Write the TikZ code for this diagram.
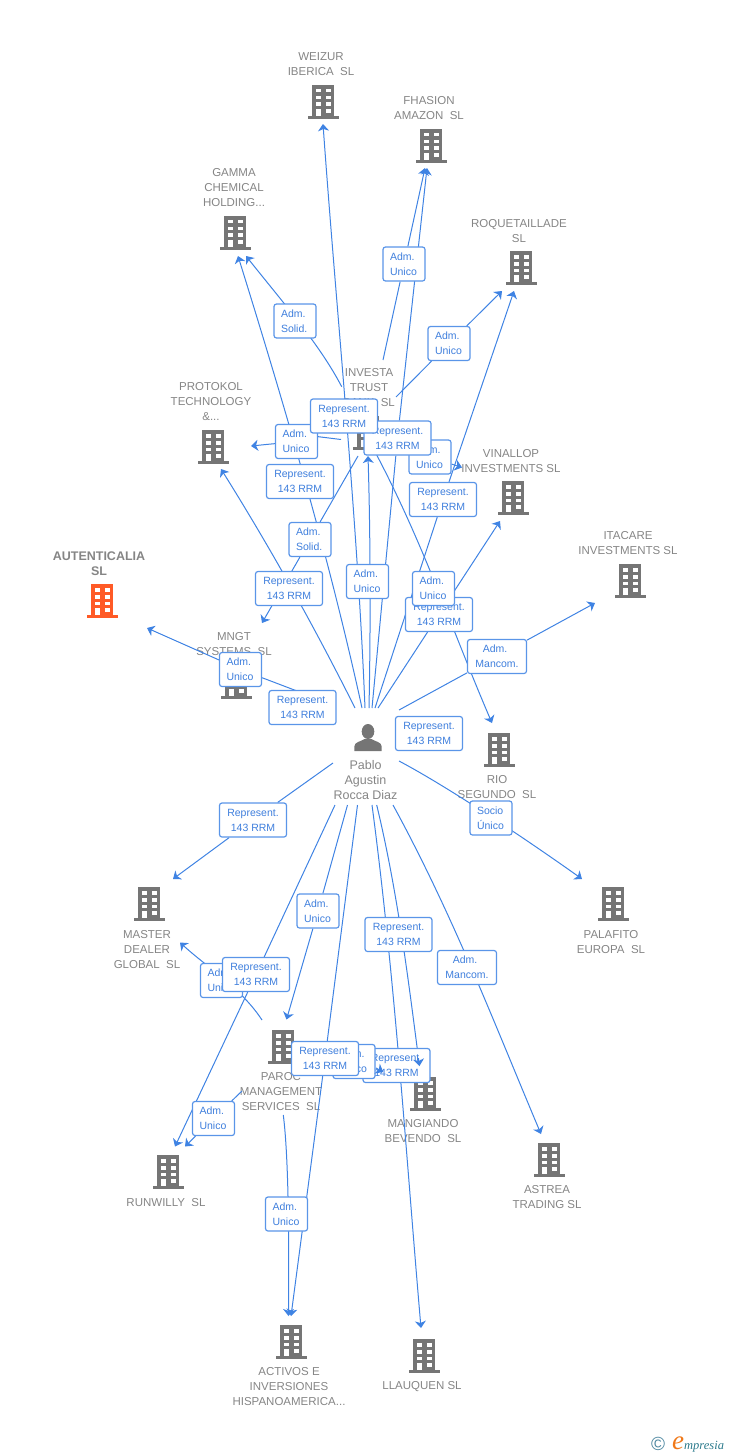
\documentclass[tikz,border=0pt]{standalone}
\usepackage{fontspec}
\setmainfont{Liberation Sans}
\newfontfamily\logofont{Liberation Serif}
\usetikzlibrary{arrows.meta,backgrounds}
\definecolor{linkblue}{HTML}{3F83E3}
\definecolor{boxblue}{HTML}{5A95E8}
\definecolor{textblue}{HTML}{3F7FDD}
\definecolor{labelgray}{HTML}{858585}
\definecolor{icongray}{HTML}{757575}
\definecolor{iconred}{HTML}{FF5A26}
\definecolor{logoteal}{HTML}{2B7A8C}
\definecolor{logoring}{HTML}{4D87A0}
\definecolor{logoorange}{HTML}{F07818}
\tikzset{
  >={Stealth[length=7pt,width=11pt,inset=2pt]},
  link/.style={color=linkblue,line width=1pt},
  relbox/.style={draw=boxblue,line width=1.2pt,rounded corners=2.5pt,fill=white,text=textblue,
    inner sep=0pt,minimum height=34pt,font=\fontsize{10.5}{15}\selectfont},
  repbox/.style={relbox,minimum width=67pt,align=center},
  admbox/.style={relbox,minimum width=42pt,align=left,text width=28pt},
  mancombox/.style={relbox,minimum width=59pt,align=center},
  firm/.style={inner sep=0pt,yshift=-0.5pt,text=labelgray,align=center,font=\fontsize{11.5}{15}\selectfont},
  building/.pic={
    \fill[pic actions] (-11,-17) rectangle (11,14);
    \fill[pic actions] (-15.5,14) rectangle (15.5,17);
    \foreach \r in {4,11,17.5}{
      \fill[white] (-7,-17+\r) rectangle (-2,-17+\r+3.5);
      \fill[white] (2.5,-17+\r) rectangle (7.5,-17+\r+3.5);
    }
    \fill[white] (-7,7) rectangle (-2,14);
    \fill[white] (2.5,7) rectangle (7.5,11);
  },
  personicon/.pic={
    \fill[icongray] (0,-6.5) ellipse (6.3 and 7.5);
    \fill[icongray] (-13.7,13) -- (-13.7,8.5) .. controls (-13.7,4) and (-7,3.5) .. (-3.5,1) -- (3.5,1)
      .. controls (7,3.5) and (13.7,4) .. (13.7,8.5) -- (13.7,13) -- cycle;
  }
}
\begin{document}
\begin{tikzpicture}[x=1pt,y=-1pt]
\useasboundingbox (0,0) rectangle (728,1455);
% free ends of the connectors
\coordinate (sWeizur) at (365,708);       \coordinate (tWeizur) at (323,124);
\coordinate (sFhasionA) at (383,360);     \coordinate (tFhasionA) at (425,168);
\coordinate (sFhasionR) at (372,708);     \coordinate (tFhasionR) at (427,168);
\coordinate (sGammaA) at (341.7,386.7);   \coordinate (tGammaA) at (246,256);
\coordinate (sGammaR) at (362,708);       \coordinate (tGammaR) at (238,256);
\coordinate (sRoquetA) at (396,397);      \coordinate (tRoquetA) at (502,291);
\coordinate (sRoquetR) at (375,708);      \coordinate (tRoquetR) at (514,291);
\coordinate (sProtokolA) at (341,439.5);  \coordinate (tProtokolA) at (251,446);
\coordinate (hProtokolA) at (296.5,434);
\coordinate (sProtokolR) at (355,708);    \coordinate (tProtokolR) at (221,469);
\coordinate (sMngt) at (358,456);         \coordinate (tMngt) at (262,623);
\coordinate (sInvesta) at (369,708);      \coordinate (tInvesta) at (368,456);
\coordinate (sVinallopA) at (398,447);    \coordinate (tVinallopA) at (462,467.5);
\coordinate (sVinallopR) at (378,708);    \coordinate (tVinallopR) at (500,521);
\coordinate (sRio) at (376.7,455);        \coordinate (tRio) at (492,723);
\coordinate (sAutent) at (297,691);       \coordinate (tAutent) at (147,628);
\coordinate (sItacare) at (399,710);      \coordinate (tItacare) at (595,603);
\coordinate (sPalafito) at (399,761);     \coordinate (tPalafito) at (582,879);
\coordinate (sMasterR) at (333,763);      \coordinate (tMasterR) at (173,879);
\coordinate (sMasterA) at (262,1020);     \coordinate (tMasterA) at (180,942.5);
\coordinate (sRunwillyR) at (335,805);    \coordinate (tRunwillyR) at (175,1146.5);
\coordinate (sRunwillyA) at (242,1091);   \coordinate (tRunwillyA) at (185,1146.5);
\coordinate (sParoc) at (347.5,805);      \coordinate (tParoc) at (286.5,1019.5);
\coordinate (sActivosR) at (357.5,805);   \coordinate (tActivosR) at (291,1316);
\coordinate (sActivosA) at (283.3,1115);  \coordinate (tActivosA) at (288.5,1316);
\coordinate (sMangiandoR) at (376.7,805); \coordinate (tMangiandoR) at (419.5,1066);
\coordinate (hMangiandoR) at (418.4,1058);
\coordinate (sMangiandoA) at (340,1056);  \coordinate (tMangiandoA) at (383.3,1072);
\coordinate (hMangiandoA) at (376,1068);
\coordinate (sLlauquen) at (372,805);     \coordinate (tLlauquen) at (421,1328);
\coordinate (sAstrea) at (393,805);       \coordinate (tAstrea) at (541,1134);
% relation boxes, the later ones lie over the earlier ones
\node[repbox] (bRepMngt) at (302.5,707.5) {Represent.\\143 RRM};
\node[admbox] (bAutent) at (240.5,669.5) {Adm.\\Unico};
\node[repbox] (bRepRio) at (429,733.5) {Represent.\\143 RRM};
\node[admbox] (bFhasionA) at (404,264) {Adm.\\Unico};
\node[admbox] (bGammaA) at (295,321) {Adm.\\Solid.};
\node[admbox] (bRoquetA) at (449,343.5) {Adm.\\Unico};
\node[admbox] (bProtokolA) at (296.5,441.5) {Adm.\\Unico};
\node[admbox] (bVinallopA) at (430,457) {Adm.\\Unico};
\node[repbox] (bFhasionR) at (397.5,438) {Represent.\\143 RRM};
\node[repbox] (bWeizur) at (344,416) {Represent.\\143 RRM};
\node[repbox] (bGammaR) at (300,481.5) {Represent.\\143 RRM};
\node[repbox] (bRoquetR) at (443,499.5) {Represent.\\143 RRM};
\node[admbox] (bMngt) at (310,539.5) {Adm.\\Solid.};
\node[repbox] (bProtokolR) at (289,588.5) {Represent.\\143 RRM};
\node[admbox] (bInvesta) at (367.5,581.5) {Adm.\\Unico};
\node[repbox] (bVinallopR) at (439,614.5) {Represent.\\143 RRM};
\node[admbox] (bRio) at (433.5,588.5) {Adm.\\Unico};
\node[mancombox] (bItacare) at (497,656.5) {Adm.\kern4pt\\Mancom.};
\node[admbox] (bPalafito) at (491,818) {Socio\\Único};
\node[repbox] (bMasterR) at (253,820) {Represent.\\143 RRM};
\node[admbox] (bParoc) at (318,911) {Adm.\\Unico};
\node[repbox] (bMangiandoR) at (398.5,934.5) {Represent.\\143 RRM};
\node[mancombox] (bAstrea) at (467,967.5) {Adm.\kern4pt\\Mancom.};
\node[admbox] (bMasterA) at (221.5,980.5) {Adm.\\Unico};
\node[repbox] (bRunwillyR) at (256,974.5) {Represent.\\143 RRM};
\node[repbox] (bLlauquen) at (396.5,1065.5) {Represent.\\143 RRM};
\node[admbox] (bMangiandoA) at (354,1061.5) {Adm.\\Unico};
\node[repbox] (bActivosR) at (325,1058.5) {Represent.\\143 RRM};
\node[admbox] (bRunwillyA) at (213.5,1118.5) {Adm.\\Unico};
\node[admbox] (bActivosA) at (286.5,1214) {Adm.\\Unico};
\begin{scope}[on background layer]
% buildings and their names
\pic[icongray] at (323,102) {building};
\pic[icongray] at (431,146) {building};
\pic[icongray] at (235,233) {building};
\pic[icongray] at (521,268) {building};
\pic[icongray] at (368,433) {building};
\pic[icongray] at (213,447) {building};
\pic[icongray] at (513,498) {building};
\pic[icongray] at (630,581) {building};
\pic[iconred] at (102,601) {building};
\pic[icongray] at (236,682) {building};
\pic[icongray] at (499,750) {building};
\pic[icongray] at (613,904) {building};
\pic[icongray] at (149,904) {building};
\pic[icongray] at (283,1047) {building};
\pic[icongray] at (425,1094) {building};
\pic[icongray] at (549,1160) {building};
\pic[icongray] at (168,1172) {building};
\pic[icongray] at (291,1342) {building};
\pic[icongray] at (424,1356) {building};
\pic at (368,738) {personicon};
\node[firm] (weizur) at (321,64) {WEIZUR\\IBERICA~~SL};
\node[firm] (fhasion) at (429,108) {FHASION\\AMAZON~~SL};
\node[firm] (gamma) at (234,187) {GAMMA\\CHEMICAL\\HOLDING...};
\node[firm] (roquet) at (519,231) {ROQUETAILLADE\\SL};
\node[firm] (investa) at (369,387) {INVESTA\\TRUST\\BANK~~SL};
\node[firm] (protokol) at (211,401) {PROTOKOL\\TECHNOLOGY\\\&...};
\node[firm] (vinallop) at (511,461) {VINALLOP\\INVESTMENTS SL};
\node[firm] (itacare) at (628,543) {ITACARE\\INVESTMENTS SL};
\node[firm,font=\fontsize{12.5}{15}\selectfont\bfseries] (autent) at (99,563) {AUTENTICALIA\\SL};
\node[firm] (mngt) at (234,644) {MNGT\\SYSTEMS~~SL};
\node[firm] (rio) at (497,787) {RIO\\SEGUNDO~~SL};
\node[firm] (palafito) at (611,942) {PALAFITO\\EUROPA~~SL};
\node[firm] (master) at (147,949) {MASTER\\DEALER\\GLOBAL~~SL};
\node[firm] (paroc) at (281,1091) {PAROC\\MANAGEMENT\\SERVICES~~SL};
\node[firm] (mangiando) at (423,1131) {MANGIANDO\\BEVENDO~~SL};
\node[firm] (astrea) at (547,1197) {ASTREA\\TRADING SL};
\node[firm] (runwilly) at (166,1202) {RUNWILLY~~SL};
\node[firm] (activos) at (289,1386) {ACTIVOS E\\INVERSIONES\\HISPANOAMERICA...};
\node[firm] (llauquen) at (422,1386) {LLAUQUEN SL};
\node[firm,font=\fontsize{12.5}{15}\selectfont] (pablo) at (365.5,780) {Pablo\\Agustin\\Rocca Diaz};
% connectors
\draw[link,->] (sWeizur) .. controls (357,513) and (337,319) .. (tWeizur);
\draw[link,->] (sFhasionA) -- (bFhasionA) -- (tFhasionA);
\draw[link,->] (sFhasionR) -- (bFhasionR) -- (tFhasionR);
\draw[link,->] (sGammaA) .. controls (320,345) and (285,305) .. (tGammaA);
\draw[link,->] (sGammaR) .. controls (329,557) and (285,407) .. (tGammaR);
\draw[link,->] (sRoquetA) -- (bRoquetA) -- (tRoquetA);
\draw[link,->] (sRoquetR) -- (bRoquetR) -- (tRoquetR);
\draw[link] (sProtokolA) -- (hProtokolA);
\draw[link,->] (bProtokolA) -- (tProtokolA);
\draw[link,->] (sProtokolR) .. controls (315,628) and (271,549) .. (tProtokolR);
\draw[link,->] (sMngt) -- (bMngt) -- (tMngt);
\draw[link,->] (sInvesta) .. controls (371,610) and (370,520) .. (tInvesta);
\draw[link,->] (sVinallopA) -- (bVinallopA) -- (tVinallopA);
\draw[link,->] (sVinallopR) -- (bVinallopR) -- (tVinallopR);
\draw[link,->] (sRio) .. controls (424,545) and (452,630) .. (tRio);
\draw[link,->] (sAutent) -- (bAutent) -- (tAutent);
\draw[link,->] (sItacare) -- (bItacare) -- (tItacare);
\draw[link,->] (sPalafito) .. controls (450,788) and (530,842) .. (tPalafito);
\draw[link,->] (sMasterR) -- (bMasterR) -- (tMasterR);
\draw[link,->] (sMasterA) .. controls (241,988) and (208,968) .. (tMasterA);
\draw[link,->] (sRunwillyR) -- (bRunwillyR) -- (tRunwillyR);
\draw[link,->] (sRunwillyA) -- (bRunwillyA) -- (tRunwillyA);
\draw[link,->] (sParoc) -- (bParoc) -- (tParoc);
\draw[link,->] (sActivosR) -- (bActivosR) -- (tActivosR);
\draw[link,->] (sActivosA) .. controls (289,1160) and (289,1250) .. (tActivosA);
\draw[link] (sMangiandoR) .. controls (397.6,892) and (408.2,979) .. (tMangiandoR);
\draw[link] (sMangiandoA) -- (bMangiandoA);
\draw[link,->] (sLlauquen) .. controls (395,979) and (406,1154) .. (tLlauquen);
\draw[link,->] (sAstrea) .. controls (453,915) and (495,1025) .. (tAstrea);
\end{scope}
% these two heads lie over the boxes
\draw[link,->] (hMangiandoR) -- (tMangiandoR);
\draw[link,->] (hMangiandoA) -- (tMangiandoA);
% logo
\node[inner sep=0pt,text=logoring,font=\fontsize{19}{19}\selectfont] (copyr) at (658,1444) {©};
\node[inner sep=0pt,anchor=base west,font=\logofont\itshape] (logo) at (672,1449)
  {\textcolor{logoorange}{\fontsize{27}{27}\selectfont e}\textcolor{logoteal}{\fontsize{12.5}{13}\selectfont mpresia}};
\end{tikzpicture}
\end{document}
